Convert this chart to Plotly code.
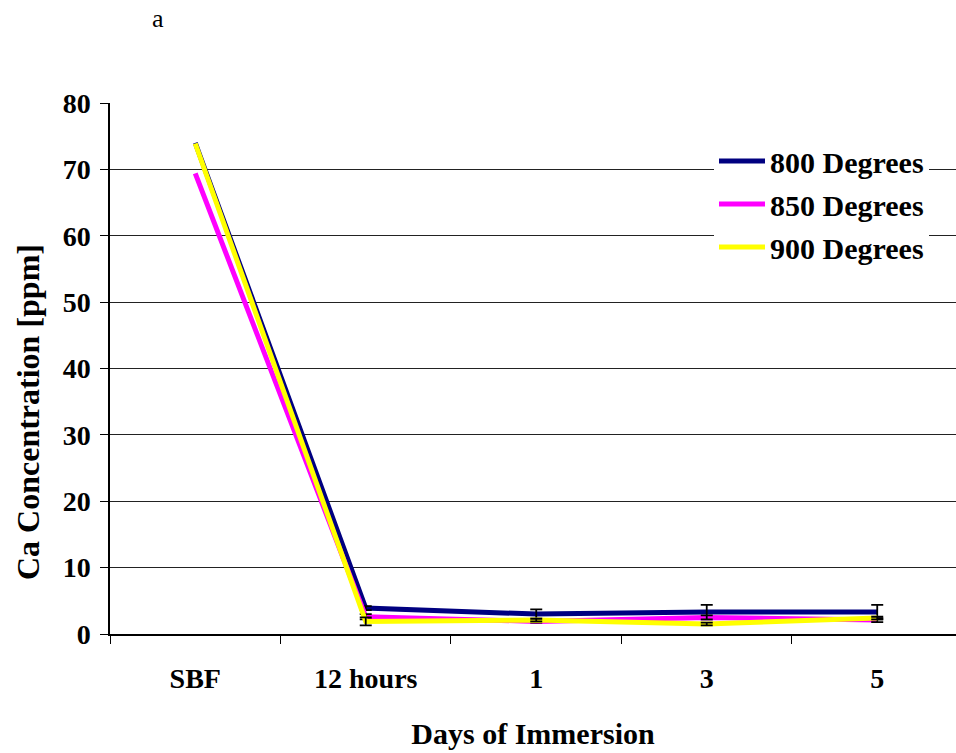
import plotly.graph_objects as go

categories = ["SBF", "12 hours", "1", "3", "5"]
ca_800 = [74.0, 3.9, 3.0, 3.3, 3.3]
ca_850 = [69.4, 2.6, 1.9, 2.5, 2.1]
ca_900 = [73.9, 1.9, 2.1, 1.5, 2.4]
# error bars exist only for the immersion points (not SBF)
err_800 = [0.3, 0.7, 1.1, 1.1]
err_850 = [0.4, 0.2, 0.3, 0.3]
err_900 = [0.6, 0.2, 0.2, 0.2]
series_names = ["800 Degrees", "850 Degrees", "900 Degrees"]
colors = ["#000080", "#FF00FF", "#FFFF00"]

FONT = "Liberation Serif, Times New Roman, serif"
FS = 28

fig = go.Figure()
for i, (name, vals, errs, col) in enumerate(zip(series_names, [ca_800, ca_850, ca_900],
                                                [err_800, err_850, err_900], colors)):
    fig.add_trace(go.Scatter(
        x=categories, y=vals, name="<b>" + name + "</b>", mode="lines",
        legendgroup="g%d" % i,
        line=dict(color=col, width=5),
    ))
    fig.add_trace(go.Scatter(
        x=categories[1:], y=vals[1:], mode="markers", showlegend=False,
        legendgroup="g%d" % i, hoverinfo="skip",
        marker=dict(size=0.1, color="rgba(0,0,0,0)"),
        error_y=dict(type="data", array=errs, visible=True,
                     color="black", thickness=1.8, width=6),
    ))

PW, PH, L, T = 846, 531, 110, 103

fig.update_layout(
    width=956, height=753,
    margin=dict(l=L, r=0, t=T, b=119),
    paper_bgcolor="white", plot_bgcolor="white",
    font=dict(family=FONT, size=FS, color="black"),
    showlegend=True,
    legend=dict(x=(714 - L) / PW, y=(634 - 135) / PH, xanchor="left", yanchor="top",
                bgcolor="white", borderwidth=0,
                font=dict(family=FONT, size=30, color="black"),
                tracegroupgap=1, itemwidth=46),
    annotations=[
        dict(text="a", x=(158 - L) / PW, y=(634 - 18) / PH,
             xref="paper", yref="paper", xanchor="center", yanchor="middle",
             showarrow=False, font=dict(family=FONT, size=26)),
        dict(text="<b>Ca Concentration [ppm]</b>", textangle=-90,
             x=(28 - L) / PW, y=(634 - 412) / PH,
             xref="paper", yref="paper", xanchor="center", yanchor="middle",
             showarrow=False, font=dict(family=FONT, size=32)),
    ],
)

fig.update_xaxes(
    type="category", range=[-0.5, 4.462],
    showline=True, linecolor="black", linewidth=1.5,
    ticks="outside", ticklen=8, tickcolor="black", tickwidth=1,
    tickson="boundaries", showgrid=False, ticklabelstandoff=19,
    tickfont=dict(family=FONT, size=FS, color="black", weight="bold"),
    title=dict(text="<b>Days of Immersion</b>", standoff=30,
               font=dict(family=FONT, size=30)),
)
fig.update_yaxes(
    range=[0, 80], dtick=10,
    showline=True, linecolor="black", linewidth=1.5,
    ticks="outside", ticklen=8, tickcolor="black", tickwidth=1,
    showgrid=True, gridcolor="#222222", gridwidth=1,
    zeroline=False, ticklabelstandoff=4,
    tickfont=dict(family=FONT, size=FS, color="black", weight="bold"),
)

fig.write_html("out.html", config={"displayModeBar": False},
               post_script="document.body.style.margin='0px';")
